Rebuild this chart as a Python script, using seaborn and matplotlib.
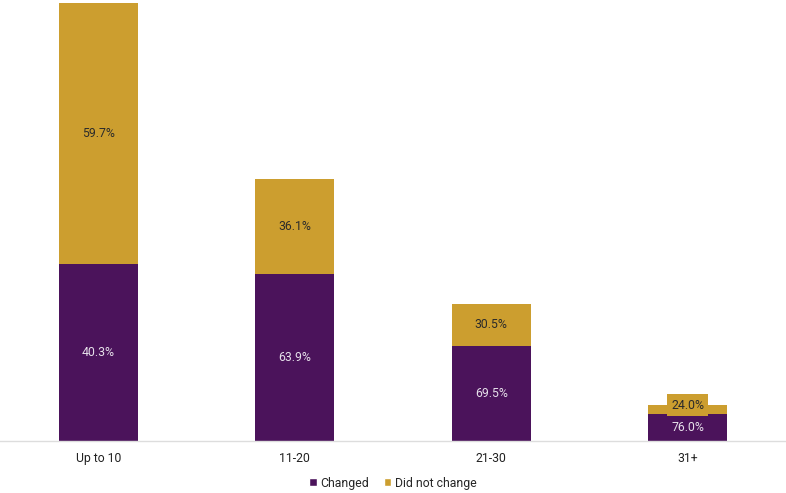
import matplotlib
matplotlib.use('Agg')
import matplotlib.pyplot as plt
import numpy as np
import pandas as pd
import seaborn as sns
from matplotlib.patches import Patch

# bar totals (relative height) and shares
categories = ['Up to 10', '11-20', '21-30', '31+']
totals = [438, 262, 137, 36]
changed_pct = [40.3, 63.9, 69.5, 76.0]
not_changed_pct = [59.7, 36.1, 30.5, 24.0]

PURPLE = '#4b135b'
GOLD = '#cc9e2f'

sns.set_style('white')
plt.rcParams['font.family'] = ['Roboto', 'DejaVu Sans']

df = pd.DataFrame({'group': categories, 'total': totals,
                   'changed_pct': changed_pct, 'not_pct': not_changed_pct})
df['changed'] = df['total'] * df['changed_pct'] / 100

fig = plt.figure(figsize=(7.86, 4.93), dpi=100)
ax = fig.add_axes([0.0, 0.1055, 1.0, 0.8885])

sns.barplot(data=df, x='group', y='total', color=GOLD, width=0.4,
            saturation=1, linewidth=0, ax=ax)
sns.barplot(data=df, x='group', y='changed', color=PURPLE, width=0.4,
            saturation=1, linewidth=0, ax=ax)

for i, row in df.iterrows():
    ax.text(i, row['changed'] / 2, f"{row['changed_pct']:.1f}%", ha='center',
            va='center', color='#e6e0ea', fontsize=8.8)
    # small segments: lift the label so its box sits on top of the purple part
    mid = max((row['changed'] + row['total']) / 2, row['changed'] + 8.5)
    ax.text(i, mid, f"{row['not_pct']:.1f}%", ha='center', va='center',
            color='#2b2b2b', fontsize=8.8,
            bbox=dict(facecolor=GOLD, edgecolor='none', pad=3))

ax.set_xlim(-0.5, 3.5)
ax.set_ylim(0, 438)
ax.set_xlabel('')
ax.set_ylabel('')
ax.set_yticks([])
for s in ['top', 'right', 'left']:
    ax.spines[s].set_visible(False)
ax.spines['bottom'].set_color('#dddddd')
ax.spines['bottom'].set_linewidth(1)
ax.tick_params(axis='x', length=0, pad=8, labelsize=8.8, labelcolor='#222222')

handles = [Patch(facecolor=PURPLE, label='Changed'),
           Patch(facecolor=GOLD, label='Did not change')]
fig.legend(handles=handles, loc='center', bbox_to_anchor=(0.5, 0.02),
           ncol=2, frameon=False, fontsize=8.8, handlelength=0.6,
           handleheight=0.6, handletextpad=0.3, columnspacing=1.2)

fig.savefig('out.png', dpi=100)
